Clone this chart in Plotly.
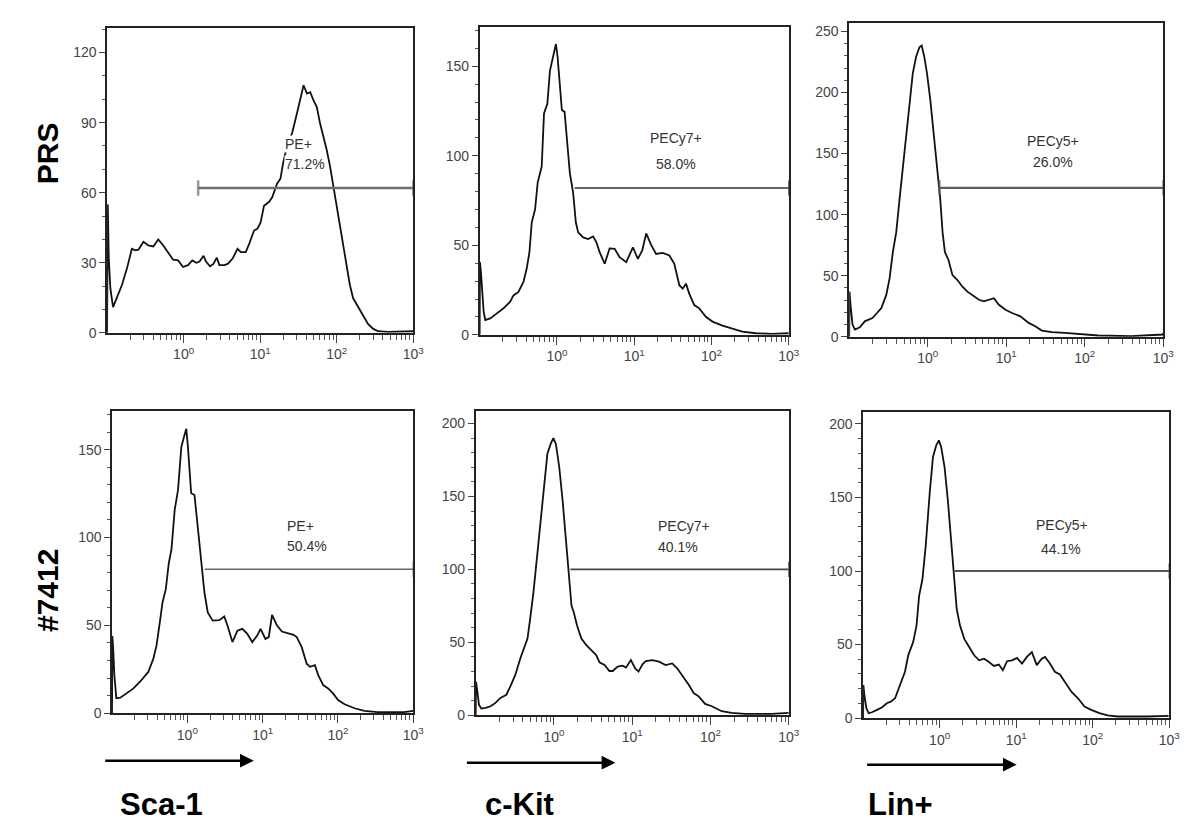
import numpy as np
import plotly.graph_objects as go

W, H = 1200, 836
FONT = "Liberation Sans, Arial, Helvetica, sans-serif"

row_labels = ["PRS", "#7412"]
col_labels = ["Sca-1", "c-Kit", "Lin+"]
x_tick_vals = [1, 10, 100, 1000]
x_tick_text = ["10<sup>0</sup>", "10<sup>1</sup>", "10<sup>2</sup>", "10<sup>3</sup>"]

# ---- histogram data: log10 fluorescence intensity and event counts ----
sca1_prs_log = [-1.0, -0.996, -0.991, -0.978, -0.957, -0.922, -0.871, -0.806, -0.741, -0.676,
                -0.633, -0.590, -0.525, -0.461, -0.396, -0.331, -0.266, -0.202, -0.137, -0.072,
                -0.008, 0.057, 0.113, 0.165, 0.208, 0.260, 0.294, 0.346, 0.389, 0.433,
                0.467, 0.532, 0.575, 0.640, 0.704, 0.748, 0.812, 0.855, 0.920, 0.963,
                1.006, 1.050, 1.114, 1.157, 1.222, 1.265, 1.300, 1.352, 1.416, 1.481,
                1.524, 1.567, 1.611, 1.654, 1.697, 1.740, 1.783, 1.826, 1.869, 1.913,
                1.956, 1.999, 2.042, 2.085, 2.128, 2.172, 2.215, 2.279, 2.344, 2.409,
                2.474, 2.538, 2.668, 3.0]
sca1_prs_count = [0, 30, 55, 32, 19, 11, 15, 20.5, 27.5, 36,
                  35.3, 35.6, 39, 37.4, 37, 40, 37.4, 34.6, 31.3, 31,
                  28.2, 29, 31, 30, 30.5, 33, 30.4, 28.5, 29.5, 32.2,
                  29, 29, 29.5, 31.8, 36, 34.6, 34.6, 38, 43.8, 44.5,
                  47.3, 54.4, 56, 58, 64, 66, 72.7, 80, 85.4, 94,
                  99.5, 106, 102.4, 103, 99.5, 96.7, 89.6, 84, 78.4, 71.3,
                  62.8, 54.4, 44.5, 37.4, 27.5, 20.5, 14.8, 11.3, 7.8, 3.8,
                  1.8, 0.7, 0.4, 0.7]

ckit_prs_log = [-1.0, -0.996, -0.983, -0.970, -0.948, -0.927, -0.863, -0.777, -0.691, -0.605,
                -0.562, -0.498, -0.433, -0.391, -0.356, -0.326, -0.283, -0.249, -0.197, -0.167,
                -0.124, -0.090, -0.047, -0.013, 0.009, 0.039, 0.064, 0.099, 0.133, 0.167,
                0.210, 0.245, 0.275, 0.339, 0.403, 0.468, 0.511, 0.554, 0.618, 0.682,
                0.747, 0.811, 0.897, 0.983, 1.047, 1.103, 1.155, 1.219, 1.283, 1.369,
                1.455, 1.519, 1.584, 1.627, 1.670, 1.712, 1.777, 1.841, 1.927, 2.013,
                2.142, 2.270, 2.399, 2.571, 2.785, 3.0]
ckit_prs_count = [0, 40.6, 35, 24, 13, 8.3, 9.2, 12, 14.8, 18.5,
                  22, 24, 29.5, 37, 46, 62.7, 70, 85, 94, 123.6,
                  129, 147.6, 156.8, 162.4, 155, 138, 125.5, 124.5, 105, 90.4,
                  79.3, 62.7, 57.2, 54.4, 53.5, 55, 51.7, 46, 39.7, 48.3,
                  48, 43.4, 40.6, 48.9, 42.4, 47, 56.6, 50.2, 45.2, 45.8,
                  44.3, 39.7, 27.7, 25.8, 28.6, 23, 16.6, 14.8, 10.1, 7.4,
                  5.2, 3.3, 1.8, 0.9, 0.5, 0.9]

lin_prs_log = [-1.0, -0.996, -0.983, -0.958, -0.928, -0.865, -0.802, -0.760, -0.705, -0.646,
               -0.591, -0.528, -0.486, -0.444, -0.401, -0.359, -0.317, -0.275, -0.233, -0.191,
               -0.149, -0.106, -0.077, -0.043, -0.009, 0.033, 0.075, 0.117, 0.159, 0.189,
               0.218, 0.265, 0.315, 0.378, 0.442, 0.505, 0.568, 0.652, 0.716, 0.779,
               0.842, 0.906, 0.990, 1.074, 1.179, 1.285, 1.369, 1.453, 1.580, 1.748,
               1.959, 2.170, 2.591, 2.992, 3.0]
lin_prs_count = [0, 37, 26, 10, 6, 7.8, 12.7, 14, 15.4, 19.5,
                 23.5, 34.3, 47.8, 69.5, 85.7, 112.7, 139.7, 166.8, 193.8, 215.4,
                 229, 237, 238.4, 229, 215.4, 193.8, 166.8, 142.4, 112.7, 85.7,
                 69.5, 62.7, 50.5, 46.5, 41, 37, 34.3, 30.3, 29, 30.3,
                 31.6, 26.2, 22.2, 19.5, 16.8, 11.4, 8.6, 5.1, 3.8, 3.2,
                 1.9, 1.1, 0.5, 1.9, 3]

sca1_7412_log = [-1.0, -0.996, -0.987, -0.969, -0.943, -0.890, -0.803, -0.715, -0.628, -0.562,
                 -0.518, -0.452, -0.409, -0.365, -0.330, -0.286, -0.246, -0.211, -0.168, -0.124,
                 -0.080, -0.045, -0.014, 0.008, 0.051, 0.095, 0.139, 0.183, 0.227, 0.271,
                 0.336, 0.424, 0.490, 0.533, 0.599, 0.665, 0.731, 0.796, 0.862, 0.928,
                 0.972, 1.037, 1.081, 1.125, 1.191, 1.256, 1.344, 1.410, 1.453, 1.519,
                 1.585, 1.629, 1.694, 1.738, 1.804, 1.870, 1.935, 2.001, 2.089, 2.220,
                 2.352, 2.527, 2.877, 3.0]
sca1_7412_count = [0, 44, 38.6, 21.6, 8.5, 8.8, 11.3, 14.1, 17.9, 21.6,
                   23.5, 31, 38.6, 51.8, 63, 70.6, 85.6, 93.2, 115.8, 127,
                   151.5, 157.2, 161.9, 151.5, 125.2, 124.2, 106.3, 87.5, 68.7, 57.4,
                   52.7, 53, 55.1, 49.9, 40.5, 47, 48, 45.2, 40.5, 44.2,
                   48, 42.3, 43.3, 55.9, 49.9, 46.5, 45.2, 44.6, 43.3, 37.6,
                   28.2, 26.4, 27.3, 21.6, 16, 14.1, 11.3, 7.5, 5.1, 2.8,
                   1.3, 0.6, 0.6, 1.3]

ckit_7412_log = [-1.0, -0.996, -0.979, -0.958, -0.928, -0.873, -0.810, -0.747, -0.684, -0.608,
                 -0.557, -0.494, -0.430, -0.388, -0.338, -0.304, -0.262, -0.211, -0.169, -0.127,
                 -0.084, -0.042, -0.008, 0.025, 0.068, 0.110, 0.152, 0.186, 0.224, 0.253,
                 0.295, 0.350, 0.414, 0.477, 0.540, 0.582, 0.646, 0.709, 0.751, 0.814,
                 0.878, 0.920, 0.983, 1.038, 1.080, 1.131, 1.173, 1.257, 1.342, 1.426,
                 1.511, 1.574, 1.637, 1.722, 1.785, 1.848, 1.932, 2.017, 2.143, 2.270,
                 2.439, 2.776, 3.0]
ckit_7412_count = [0, 23, 16.3, 7.2, 4.5, 5, 6.1, 8.4, 11.8, 14,
                   19.7, 27.6, 38.9, 45.7, 52.5, 66, 84.2, 111.3, 134, 158.8,
                   179.2, 186, 190, 186, 170, 147.5, 120.4, 97.7, 75.1, 70.6,
                   61.5, 52.5, 48, 44.6, 41.2, 36.2, 34.4, 30.3, 30.3, 33.3,
                   33.9, 32.6, 37.8, 32.1, 29.9, 34.8, 37.1, 37.8, 36.7, 34.4,
                   35.5, 32.1, 27.6, 20.8, 15.2, 12.9, 7.7, 6.1, 2.7, 1.6,
                   0.9, 0.9, 1.6]

lin_7412_log = [-1.0, -0.996, -0.983, -0.957, -0.927, -0.884, -0.819, -0.755, -0.690, -0.638,
                -0.582, -0.518, -0.453, -0.410, -0.346, -0.302, -0.268, -0.225, -0.182, -0.130,
                -0.087, -0.044, -0.010, 0.020, 0.064, 0.107, 0.150, 0.180, 0.223, 0.266,
                0.322, 0.386, 0.451, 0.516, 0.580, 0.645, 0.709, 0.774, 0.826, 0.881,
                0.946, 1.011, 1.076, 1.140, 1.205, 1.269, 1.334, 1.377, 1.441, 1.506,
                1.571, 1.635, 1.721, 1.807, 1.893, 1.980, 2.087, 2.195, 2.324, 2.712,
                2.991]
lin_7412_count = [0, 22.5, 15.7, 6.7, 3.4, 4, 5.6, 7.2, 10.1, 11.2,
                  13.5, 22.5, 31.5, 42.7, 51.7, 62.9, 83.1, 94.4, 116.9, 152.8,
                  177.5, 185.4, 188.8, 184.3, 170.8, 148.3, 121.3, 98.9, 74.2, 62.9,
                  53.9, 48.3, 42.7, 39.3, 40.4, 38.2, 35.5, 36.4, 32.6, 38.7,
                  39.3, 40.9, 37.1, 41.6, 44.9, 36, 40.4, 41.6, 37.1, 31.5,
                  29.7, 24.7, 18, 13.5, 7.9, 5.6, 3.4, 1.8, 1.1, 1.1,
                  1.6]

# ---- gates ----
gate_names = ["PE+", "PECy7+", "PECy5+", "PE+", "PECy7+", "PECy5+"]
gate_pcts = ["71.2%", "58.0%", "26.0%", "50.4%", "40.1%", "44.1%"]
gate_start_log = [0.19, 0.23, 0.15, 0.23, 0.21, 0.195]
gate_end = [1000, 1000, 1000, 1000, 1000, 1000]
gate_level = [62, 82, 122, 82, 100, 100]

# ---- axes ----
y_max = [130.6, 172, 257, 172, 208.5, 208]
y_tick_step = [30, 50, 50, 50, 50, 50]

curves = [
    (sca1_prs_log, sca1_prs_count),
    (ckit_prs_log, ckit_prs_count),
    (lin_prs_log, lin_prs_count),
    (sca1_7412_log, sca1_7412_count),
    (ckit_7412_log, ckit_7412_count),
    (lin_7412_log, lin_7412_count),
]

# ---- layout (pixels) ----
panel_px = [  # left, right, top, bottom
    (100, 409, 20, 328),
    (476, 788, 19, 330),
    (849, 1166, 15, 332),
    (105, 409, 407, 712),
    (472, 788, 407, 714),
    (863, 1172, 408, 717),
]
# gate label placement (log-x name, y-name, y-pct, x-anchor, log-x pct)
gate_label_pos = [
    (1.31, 81.0, 72.5, "left", 1.31),
    (1.54, 109.8, 95.2, "center", 1.54),
    (1.59, 159.9, 142.9, "center", 1.59),
    (1.316, 106.6, 95.3, "left", 1.316),
    (1.66, 129.5, 115.4, "center", 1.58),
    (1.60, 131.4, 115.1, "center", 1.58),
]
gate_style = [  # color, width, start cap
    ("#6e6e6e", 2.5, True),
    ("#333333", 1.6, False),
    ("#5e5e5e", 2.2, True),
    ("#666666", 1.6, False),
    ("#444444", 1.6, False),
    ("#555555", 1.8, False),
]

minor_x = [k * 10.0 ** n for n in range(-1, 3) for k in range(2, 10)]

fig = go.Figure()
layout = dict(
    width=W, height=H, margin=dict(l=0, r=0, t=0, b=0),
    paper_bgcolor="white", plot_bgcolor="white", showlegend=False,
    font=dict(family=FONT, color="#444444", size=14),
)
annotations = []

for i, ((lx, cnt), (l, r, t, b)) in enumerate(zip(curves, panel_px)):
    xa = "x" if i == 0 else f"x{i+1}"
    ya = "y" if i == 0 else f"y{i+1}"
    xkey = "xaxis" if i == 0 else f"xaxis{i+1}"
    ykey = "yaxis" if i == 0 else f"yaxis{i+1}"

    fig.add_trace(go.Scatter(
        x=10 ** np.array(lx), y=cnt, mode="lines", xaxis=xa, yaxis=ya,
        line=dict(color="#111111", width=1.8), hoverinfo="skip"))

    color, width, cap = gate_style[i]
    fig.add_trace(go.Scatter(
        x=[10 ** gate_start_log[i], gate_end[i]], y=[gate_level[i], gate_level[i]],
        mode="lines+markers", xaxis=xa, yaxis=ya,
        line=dict(color=color, width=width),
        marker=dict(symbol="line-ns", size=[11 if cap else 0, 11],
                    line=dict(color=color, width=width)),
        cliponaxis=False, hoverinfo="skip"))

    layout[xkey] = dict(
        domain=[l / W, r / W], anchor=ya, type="log", range=[-1, 3],
        tickmode="array", tickvals=x_tick_vals, ticktext=x_tick_text,
        ticks="outside", ticklen=8, tickwidth=1.3, tickcolor="#444444",
        minor=dict(tickmode="array", tickvals=minor_x, ticks="outside",
                   ticklen=5, tickwidth=1, tickcolor="#555555"),
        showline=True, linecolor="#222222", linewidth=1.5, mirror=True,
        showgrid=False, zeroline=False,
        tickfont=dict(family=FONT, size=14, color="#444444"),
    )
    layout[ykey] = dict(
        domain=[1 - b / H, 1 - t / H], anchor=xa, range=[0, y_max[i]],
        tickmode="array", tickvals=list(range(0, int(y_max[i]) + 1, y_tick_step[i])),
        ticks="outside", ticklen=6, tickwidth=1.3, tickcolor="#444444",
        minor=dict(dtick=10, ticks="outside", ticklen=3, tickwidth=1,
                   tickcolor="#555555"),
        showline=True, linecolor="#222222", linewidth=1.5, mirror=True,
        showgrid=False, zeroline=False,
        tickfont=dict(family=FONT, size=14, color="#444444"),
    )

    gx, gy1, gy2, anc, gx2 = gate_label_pos[i]
    bg = "white" if i == 0 else "rgba(0,0,0,0)"
    annotations.append(dict(
        x=gx, y=gy1, xref=xa, yref=ya, text=gate_names[i], showarrow=False,
        xanchor=anc, yanchor="middle", bgcolor=bg,
        font=dict(family=FONT, size=14, color="#333333"), borderpad=0))
    annotations.append(dict(
        x=gx2, y=gy2, xref=xa, yref=ya, text=gate_pcts[i], showarrow=False,
        xanchor=anc, yanchor="middle", bgcolor=bg,
        font=dict(family=FONT, size=14, color="#333333"), borderpad=0))

# row labels
for lab, yc in zip(row_labels, [147, 588]):
    annotations.append(dict(
        x=40 / W, y=1 - yc / H, xref="paper", yref="paper", text=f"<b>{lab}</b>",
        textangle=-90, showarrow=False, xanchor="center", yanchor="middle",
        font=dict(family=FONT, size=30, color="#000000")))

# column labels and arrows
col_label_x = [155, 516, 901]
arrow_px = [(98, 248, 760), (463, 613, 762), (867, 1018, 764)]
for lab, cx, (x0, x1, ay) in zip(col_labels, col_label_x, arrow_px):
    annotations.append(dict(
        x=cx / W, y=1 - 804 / H, xref="paper", yref="paper", text=f"<b>{lab}</b>",
        showarrow=False, xanchor="center", yanchor="middle",
        font=dict(family=FONT, size=31, color="#000000")))
    annotations.append(dict(
        x=x1 / W, y=1 - ay / H, ax=-(x1 - x0), ay=0,
        xref="paper", yref="paper", axref="pixel", ayref="pixel",
        text="", showarrow=True, arrowhead=2, arrowsize=1.1, arrowwidth=2.5,
        arrowcolor="#000000"))

layout["annotations"] = annotations
fig.update_layout(**layout)
fig.write_html("out.html")
